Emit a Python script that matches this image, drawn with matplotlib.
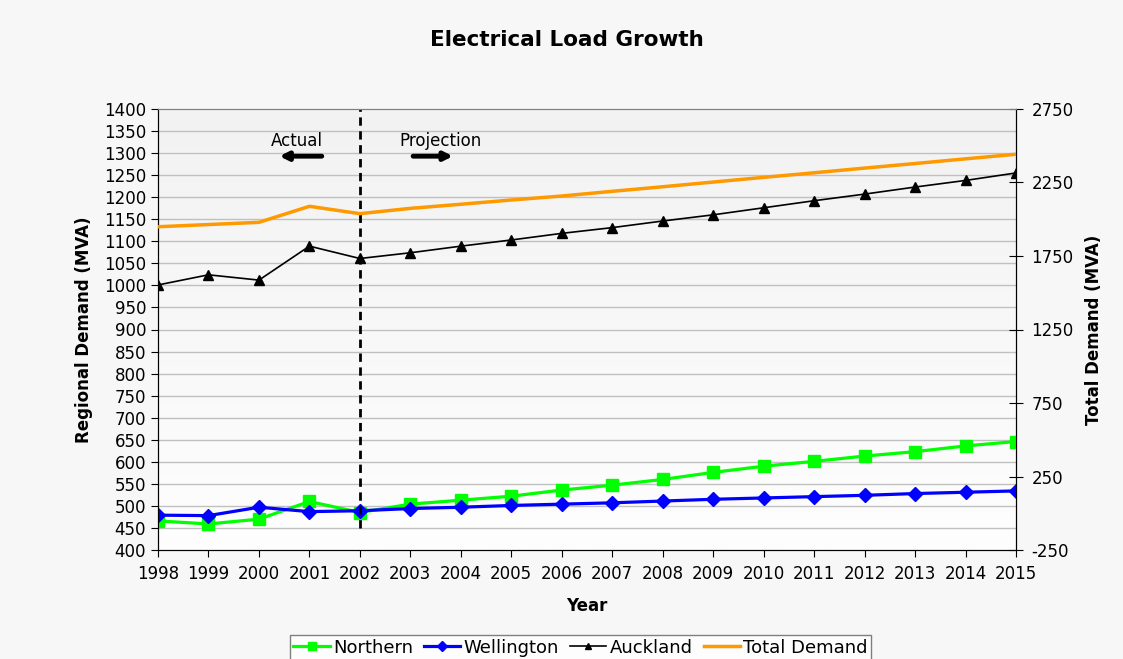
import numpy as np
import matplotlib
matplotlib.use("Agg")
import matplotlib.pyplot as plt

# andmed loetud jooniselt
aastad = list(range(1998, 2016))
northern = [466, 459, 470, 510, 485, 504, 513, 522, 536, 547, 560, 576, 590, 601, 613, 623, 636, 646]
wellington = [479, 478, 497, 487, 489, 494, 497, 501, 504, 507, 511, 515, 518, 521, 524, 528, 531, 534]
auckland = [1001, 1024, 1012, 1089, 1061, 1074, 1089, 1103, 1118, 1131, 1146, 1160, 1176, 1192, 1207, 1223, 1238, 1255]
total = [1949, 1964, 1979, 2088, 2038, 2074, 2102, 2131, 2158, 2190, 2221, 2253, 2285, 2316, 2348, 2379, 2411, 2442]

vasak_ticks = list(range(400, 1401, 50))
parem_ticks = list(range(-250, 2751, 500))

plt.rcParams['font.family'] = ['DejaVu Sans']
plt.rcParams['axes.unicode_minus'] = False

fig = plt.figure(figsize=(11.23, 6.59), dpi=100, facecolor="#f7f7f7")
ax = fig.add_axes([0.1407, 0.1654, 0.764, 0.6692])
ax.set_facecolor("#f7f7f7")

# taust: hall -> valge gradient
grad = np.linspace(0, 1, 256).reshape(-1, 1)
ax.imshow(grad, extent=[1998, 2015, 400, 1400], aspect="auto", origin="upper",
          cmap=matplotlib.colors.LinearSegmentedColormap.from_list("g", ["#f2f2f2", "#fefefe"]),
          zorder=0)

for v in vasak_ticks[1:-1]:
    ax.axhline(v, color="#c0c0c0", linewidth=1, zorder=1)

ax.plot(aastad, northern, color="#00ff00", linewidth=2.3, marker="s", markersize=9,
        label="Northern", zorder=4)
ax.plot(aastad, wellington, color="#0000ff", linewidth=2.3, marker="D", markersize=7,
        label="Wellington", zorder=5)
ax.plot(aastad, auckland, color="black", linewidth=1.2, marker="^", markersize=7,
        label="Auckland", zorder=4)

ax2 = ax.twinx()
ax2.plot(aastad, total, color="#ff9900", linewidth=2.5, label="Total Demand", zorder=3)
ax2.set_ylim(-250, 2750)
ax2.set_yticks(parem_ticks)

ax.set_xlim(1998, 2015)
ax.set_ylim(400, 1400)
ax.set_yticks(vasak_ticks)
ax.set_xticks(aastad)

# eraldusjoon tegelik / prognoos
ax.plot([2002, 2002], [450, 1400], color="black", linestyle=(0, (3, 2)), linewidth=2, zorder=6)

ax.text(2000.75, 1327, "Actual", fontsize=12, ha="center", va="center")
ax.text(2003.6, 1327, "Projection", fontsize=12, ha="center", va="center")
ax.annotate("", xy=(2000.35, 1293), xytext=(2001.3, 1293),
            arrowprops=dict(arrowstyle="-|>", color="black", lw=3.5, mutation_scale=12))
ax.annotate("", xy=(2003.9, 1293), xytext=(2003.0, 1293),
            arrowprops=dict(arrowstyle="-|>", color="black", lw=3.5, mutation_scale=12))

for a in (ax, ax2):
    a.tick_params(labelsize=12)
    a.spines["top"].set_color("#808080")
    a.spines["left"].set_color("black")
    a.spines["right"].set_color("black")
    a.spines["bottom"].set_color("black")
ax.tick_params(axis="y", direction="out", length=5)
ax.tick_params(axis="x", direction="out", length=5, pad=6)
ax2.tick_params(axis="y", direction="inout", length=10, pad=6)

ax.set_ylabel("Regional Demand (MVA)", fontsize=12, fontweight="bold", labelpad=8)
ax2.set_ylabel("Total Demand (MVA)", fontsize=12, fontweight="bold", labelpad=8)
ax.set_xlabel("Year", fontsize=12, fontweight="bold", labelpad=10)

fig.text(0.505, 0.94, "Electrical Load Growth", fontsize=15.5, fontweight="bold",
         ha="center", va="center")

h1, l1 = ax.get_legend_handles_labels()
h2, l2 = ax2.get_legend_handles_labels()
leg = fig.legend(h1 + h2, l1 + l2, loc="upper center", bbox_to_anchor=(0.517, 0.05),
                 ncol=4, fontsize=13, frameon=True, fancybox=False, edgecolor="#606060",
                 handlelength=2, handletextpad=0.2, columnspacing=0.6,
                 borderpad=0.2, markerscale=0.7)
leg.get_frame().set_facecolor("white")

fig.savefig("out.png", dpi=100, facecolor=fig.get_facecolor())
